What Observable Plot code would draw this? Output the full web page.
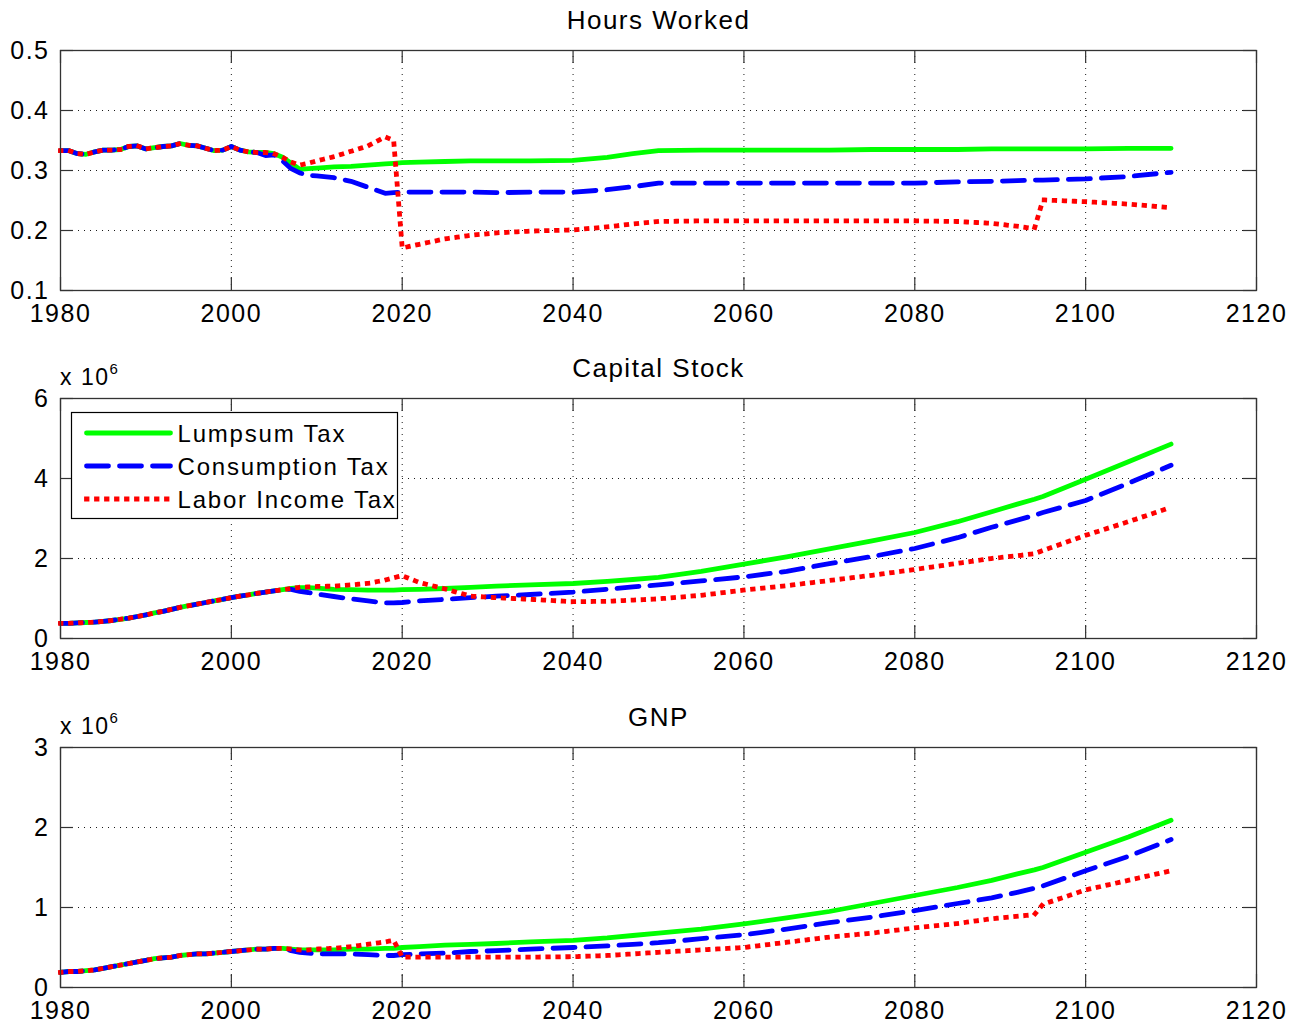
<!DOCTYPE html>
<html><head><meta charset="utf-8">
<script src="https://cdn.jsdelivr.net/npm/d3@7"></script>
<script src="https://cdn.jsdelivr.net/npm/@observablehq/plot@0.6"></script>
<style>
body{margin:0;background:#fff;}
#chart{position:relative;width:1295px;height:1023px;overflow:hidden;background:#fff;}
#chart > svg{position:absolute;left:0;}
</style></head><body><div id="chart"></div><script>
// ---- data ----
const years = [1980,1981,1982,1983,1984,1985,1986,1987,1988,1989,1990,1991,1992,1993,1994,1995,1996,1997,1998,1999,2000,2001,2002,2003,2004,2005,2006,2007,2008,2009,2010,
  2012,2014,2016,2018,2019,2020,2022,2025,2028,2031,2035,2040,2044,2047,2050,2055,2060,2065,2070,2075,2080,2085,2089,2092,2094,2095,2100,2105,2110];

const seriesNames = ["Lumpsum Tax", "Consumption Tax", "Labor Income Tax"];
const titles = ["Hours Worked", "Capital Stock", "GNP"];
const xTicks = [1980, 2000, 2020, 2040, 2060, 2080, 2100, 2120];
const hoursTicks = [0.1, 0.2, 0.3, 0.4, 0.5];
const capitalTicks = [0, 2, 4, 6];
const gnpTicks = [0, 1, 2, 3];
const scaleLabel = ["x 10", "6"];

const hoursLump = [.333,.333,.328,.327,.331,.334,.334,.335,.340,.341,.336,.338,.340,.341,.345,.342,.341,.337,.333,.334,.340,.334,.331,.330,.330,.328,.322,.312,.302,.303,.304,
  .306,.307,.309,.311,.312,.313,.314,.315,.316,.316,.316,.317,.322,.328,.333,.334,.334,.334,.334,.335,.335,.335,.336,.336,.336,.336,.336,.337,.337];
const hoursCons = [.333,.333,.328,.327,.331,.334,.334,.335,.340,.341,.336,.338,.340,.341,.345,.342,.341,.337,.333,.334,.340,.334,.331,.330,.325,.326,.316,.303,.296,.292,.291,
  .288,.282,.272,.262,.263,.264,.264,.264,.264,.263,.264,.264,.268,.273,.279,.279,.279,.279,.279,.279,.279,.281,.282,.283,.284,.284,.286,.290,.297];
const hoursLabor = [.333,.333,.328,.327,.331,.334,.334,.335,.340,.341,.336,.338,.340,.341,.345,.342,.341,.337,.333,.334,.340,.334,.331,.330,.330,.328,.322,.314,.309,.312,.316,
  .323,.332,.341,.356,.350,.171,.177,.186,.192,.196,.199,.201,.206,.211,.215,.216,.216,.216,.216,.216,.216,.215,.212,.207,.203,.251,.248,.244,.238];

const capLump = [.38,.38,.39,.40,.41,.43,.45,.48,.51,.55,.59,.64,.68,.73,.78,.82,.86,.90,.94,.98,1.02,1.06,1.09,1.13,1.16,1.19,1.22,1.25,1.27,1.27,1.26,
  1.23,1.22,1.21,1.21,1.21,1.22,1.23,1.25,1.28,1.31,1.34,1.375,1.43,1.475,1.53,1.68,1.86,2.04,2.24,2.44,2.65,2.92,3.17,3.36,3.48,3.55,3.98,4.42,4.86];
const capCons = [.38,.38,.39,.40,.41,.43,.45,.48,.51,.55,.59,.64,.68,.73,.78,.82,.86,.90,.94,.98,1.02,1.06,1.09,1.13,1.16,1.19,1.22,1.23,1.18,1.15,1.11,
  1.05,.99,.94,.89,.89,.90,.94,.98,1.02,1.06,1.10,1.16,1.23,1.29,1.34,1.44,1.54,1.68,1.87,2.05,2.25,2.52,2.78,2.96,3.08,3.15,3.45,3.88,4.33];
const capLabor = [.38,.38,.39,.40,.41,.43,.45,.48,.51,.55,.59,.64,.68,.73,.78,.82,.86,.90,.94,.98,1.02,1.06,1.09,1.13,1.16,1.19,1.22,1.25,1.28,1.29,1.30,
  1.31,1.34,1.38,1.46,1.52,1.57,1.40,1.24,1.06,1.02,.98,.92,.93,.96,.99,1.08,1.21,1.32,1.45,1.58,1.725,1.88,2.0,2.07,2.12,2.2,2.58,2.92,3.28];

const gnpLump = [.19,.20,.20,.21,.22,.24,.26,.28,.30,.32,.34,.36,.37,.38,.40,.41,.42,.42,.43,.44,.45,.46,.47,.48,.48,.49,.49,.48,.47,.47,.47,
  .47,.48,.48,.49,.49,.50,.51,.53,.54,.55,.57,.59,.62,.65,.68,.73,.795,.87,.95,1.05,1.15,1.25,1.34,1.42,1.47,1.5,1.69,1.88,2.09];
const gnpCons = [.19,.20,.20,.21,.22,.24,.26,.28,.30,.32,.34,.36,.37,.38,.40,.41,.42,.42,.43,.44,.45,.46,.47,.48,.48,.49,.49,.46,.44,.43,.42,
  .42,.42,.41,.40,.40,.41,.42,.43,.45,.46,.48,.50,.52,.54,.56,.61,.66,.73,.81,.88,.96,1.05,1.12,1.19,1.24,1.27,1.46,1.64,1.85];
const gnpLabor = [.19,.20,.20,.21,.22,.24,.26,.28,.30,.32,.34,.36,.37,.38,.40,.41,.42,.42,.43,.44,.45,.46,.47,.48,.48,.49,.49,.48,.47,.47,.48,
  .49,.51,.54,.57,.59,.38,.38,.38,.38,.38,.38,.385,.40,.42,.44,.47,.50,.565,.63,.68,.745,.80,.86,.89,.91,1.04,1.22,1.34,1.46];

// ---- styles ----
const lineStyles = [
  {stroke: "#00ff00", strokeWidth: 4.8, strokeDasharray: null, strokeLinecap: "round"},
  {stroke: "#0000ff", strokeWidth: 4.8, strokeDasharray: "22,11", strokeLinecap: "round"},
  {stroke: "#ff0000", strokeWidth: 4.8, strokeDasharray: "0.5,9.5", strokeLinecap: "square"}
];
const FONT = "'Liberation Sans', Arial, sans-serif";
const W = 1295, ML = 60, MR = 39, MT = 50, IH = 240, IW = W - ML - MR;

function panel(top, height, title, yDomain, yTicks, yFmt, seriesVals, opts = {}) {
  const marks = [
    Plot.gridX(xTicks, {stroke: "#000", strokeOpacity: 0.9, strokeWidth: 1, strokeDasharray: "1,5"}),
    Plot.gridY(yTicks, {stroke: "#000", strokeOpacity: 0.9, strokeWidth: 1, strokeDasharray: "1,5"}),
    Plot.tickX(xTicks, {x: d => d, insetTop: IH - 13, stroke: "#333", strokeWidth: 1.2}),
    Plot.tickX(xTicks, {x: d => d, insetBottom: IH - 13, stroke: "#333", strokeWidth: 1.2}),
    Plot.tickY(yTicks, {y: d => d, insetRight: IW - 13, stroke: "#333", strokeWidth: 1.2}),
    Plot.tickY(yTicks, {y: d => d, insetLeft: IW - 13, stroke: "#333", strokeWidth: 1.2}),
    Plot.axisX(xTicks, {tickSize: 0, tickPadding: 14, fontSize: 25, label: null, tickFormat: d => String(d)}),
    Plot.axisY(yTicks, {tickSize: 0, tickPadding: 11, fontSize: 25, label: null, tickFormat: yFmt}),
    ...seriesVals.map((vals, k) => Plot.line(years.map((year, i) => ({year, value: vals[i], name: seriesNames[k]})),
      {x: "year", y: "value", ...lineStyles[k], strokeLinejoin: "round"})),
    Plot.frame({stroke: "#333", strokeWidth: 1.3}),
    Plot.text([title], {text: d => d, frameAnchor: "top", dy: -22, lineAnchor: "bottom", fontSize: 26, fill: "#000"})
  ];
  const svg = Plot.plot({
    width: W, height,
    marginLeft: ML, marginRight: MR, marginTop: MT, marginBottom: height - MT - IH,
    x: {domain: [1980, 2120], axis: null},
    y: {domain: yDomain, axis: null},
    style: {fontFamily: FONT, fontSize: "25px", letterSpacing: "1.5px", color: "#000", background: "#fff", overflow: "visible"},
    marks
  });
  svg.style.top = top + "px";
  const s = d3.select(svg);
  if (opts.scale) {
    const t = s.append("text").attr("x", ML).attr("y", MT - 13).attr("text-anchor", "start")
      .attr("font-family", FONT).attr("font-size", 23).attr("letter-spacing", "1.5px").attr("fill", "#000");
    t.append("tspan").text(scaleLabel[0]);
    t.append("tspan").attr("font-size", 15).attr("dy", -11).attr("letter-spacing", "0px").text(scaleLabel[1]);
  }
  if (opts.legend) {
    const g = s.append("g").attr("transform", `translate(71.5,64.5)`);
    g.append("rect").attr("width", 326).attr("height", 106).attr("fill", "#fff").attr("stroke", "#000").attr("stroke-width", 1.2);
    const rows = [20.5, 53.5, 86.5];
    seriesNames.forEach((name, k) => {
      const st = lineStyles[k];
      g.append("line").attr("x1", 15).attr("x2", 99).attr("y1", rows[k]).attr("y2", rows[k])
        .attr("stroke", st.stroke).attr("stroke-width", st.strokeWidth)
        .attr("stroke-dasharray", st.strokeDasharray).attr("stroke-linecap", st.strokeLinecap);
      g.append("text").attr("x", 106).attr("y", rows[k] + 9).attr("text-anchor", "start")
        .attr("font-family", FONT).attr("font-size", 24)
        .attr("letter-spacing", "1.8px").attr("fill", "#000").text(name);
    });
  }
  document.getElementById("chart").appendChild(svg);
}

panel(0, 349, titles[0], [0.1, 0.5], hoursTicks, d3.format(".1f"), [hoursLump, hoursCons, hoursLabor]);
panel(348, 349, titles[1], [0, 6], capitalTicks, d => String(d), [capLump, capCons, capLabor], {scale: true, legend: true});
panel(697, 326, titles[2], [0, 3], gnpTicks, d => String(d), [gnpLump, gnpCons, gnpLabor], {scale: true});
</script></body></html>
